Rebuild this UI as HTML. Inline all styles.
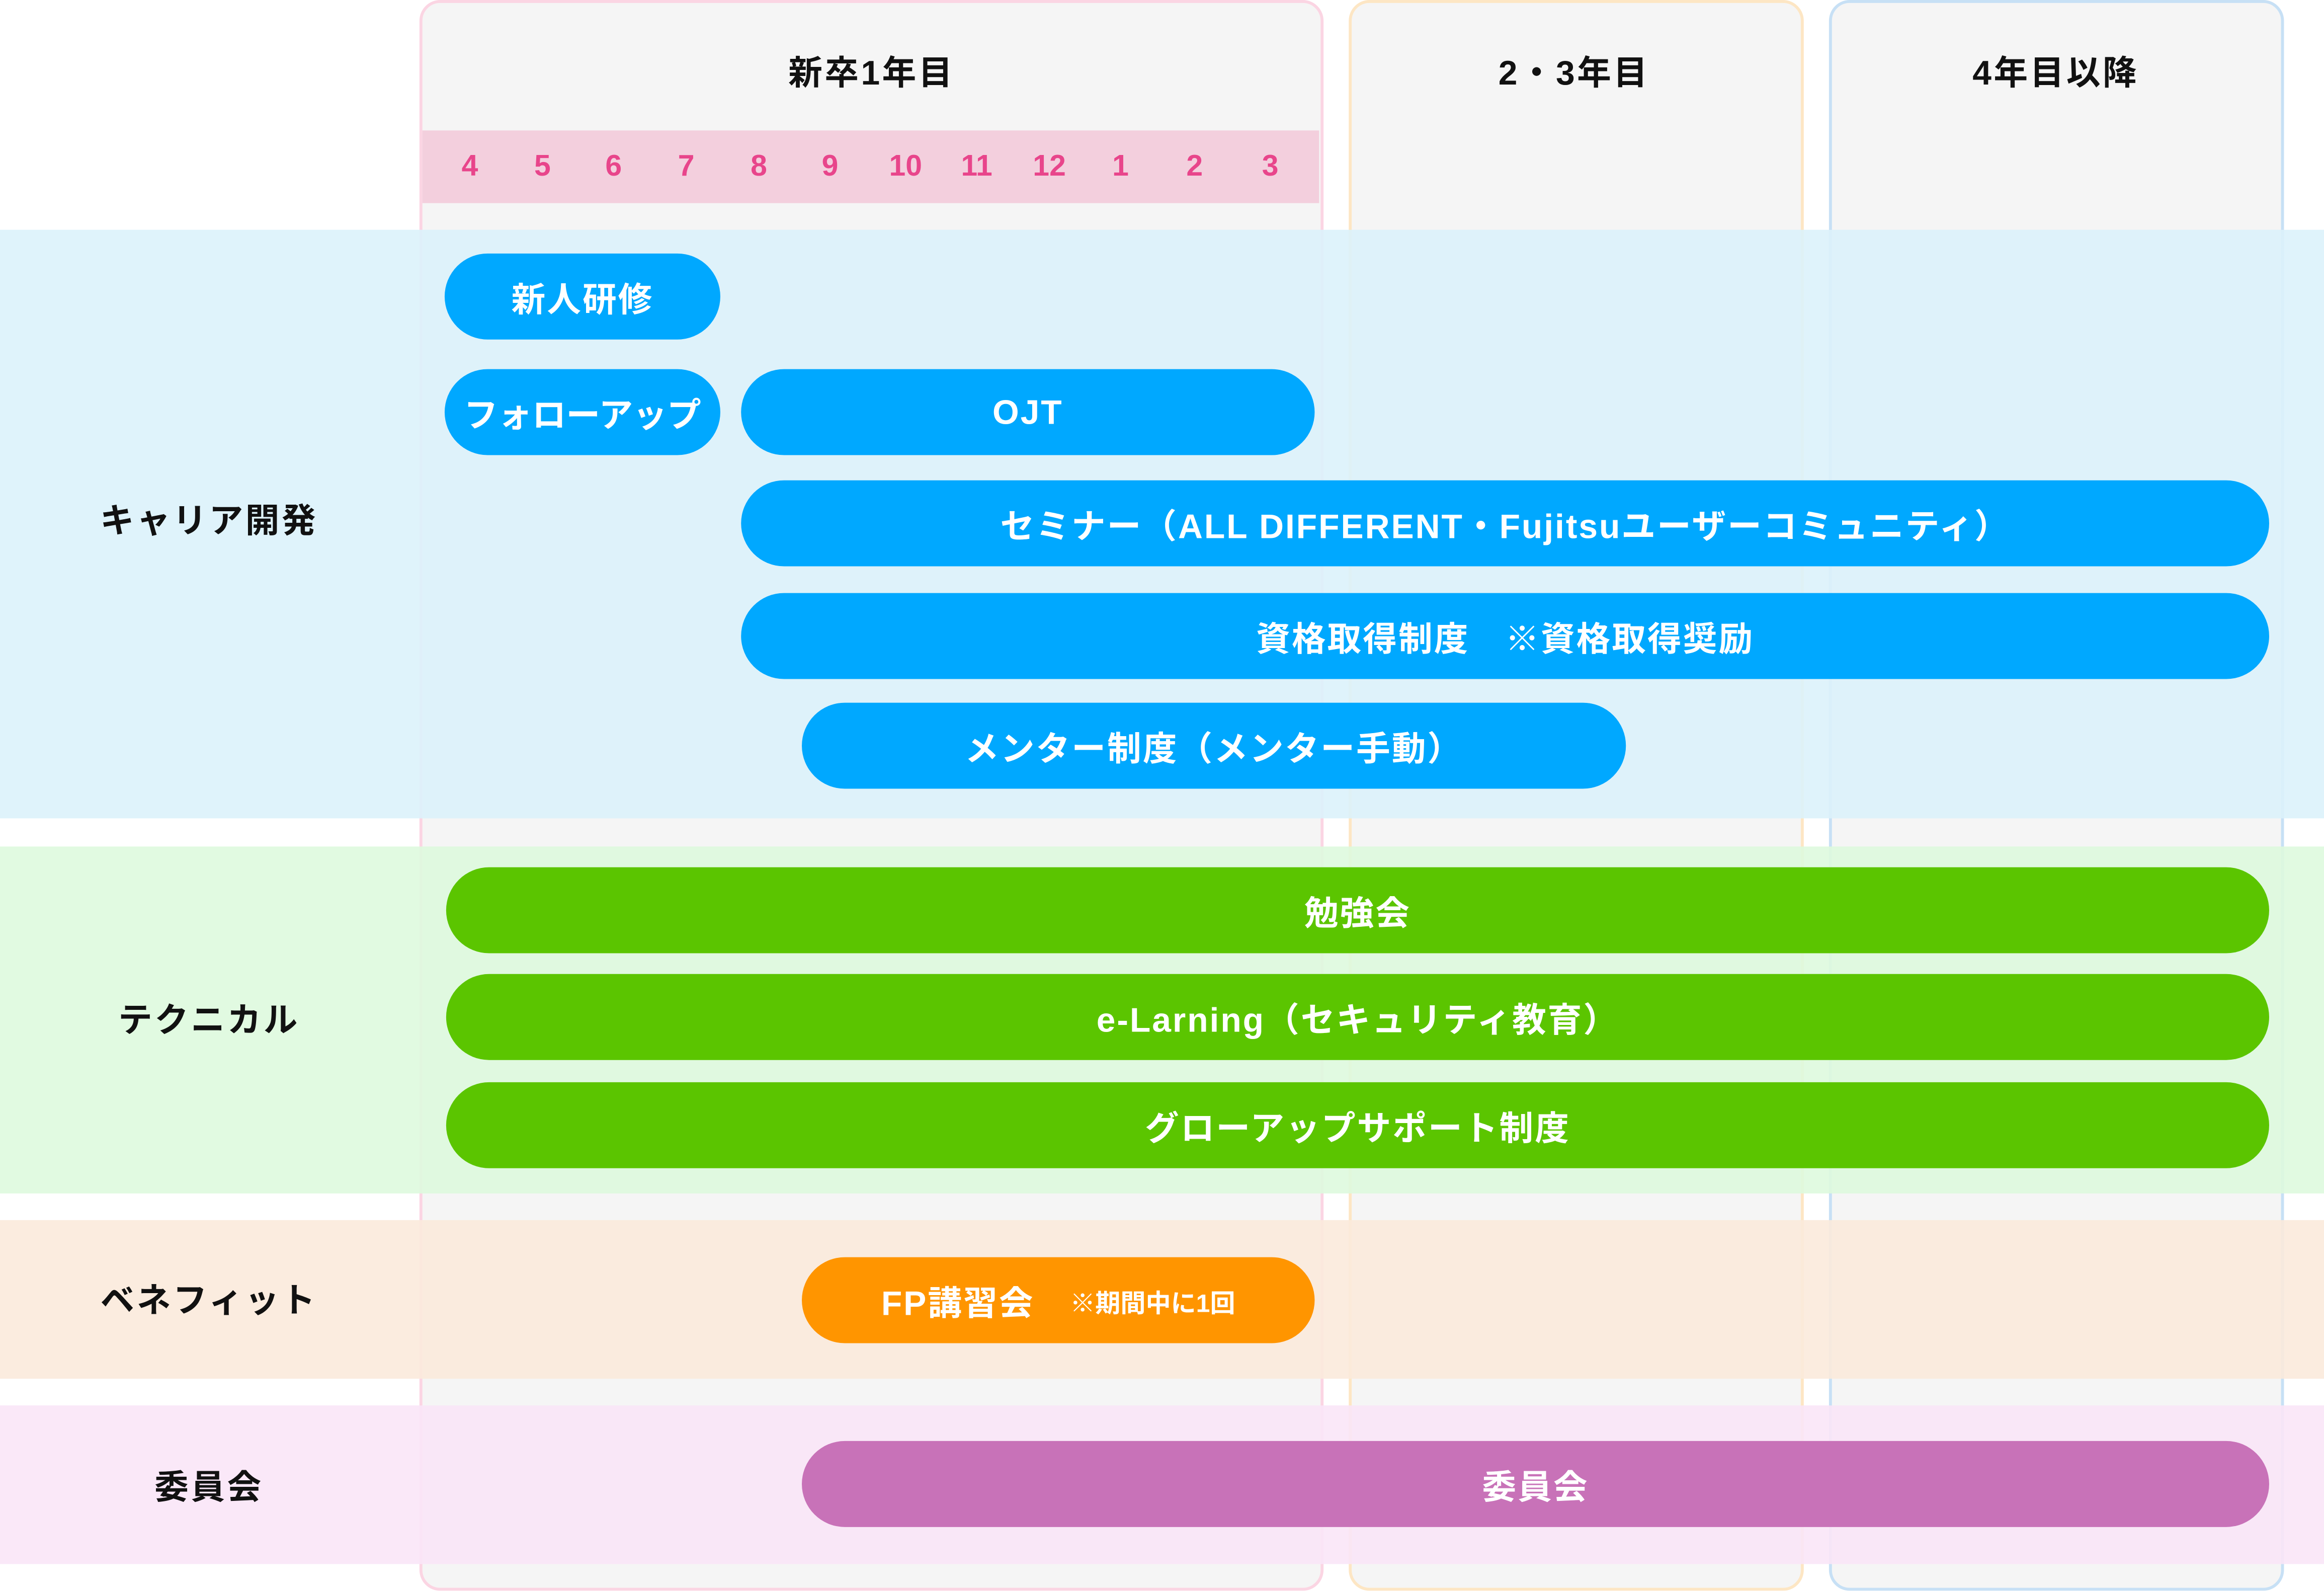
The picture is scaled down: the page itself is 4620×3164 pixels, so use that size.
<!DOCTYPE html>
<html><head><meta charset="utf-8"><style>
html,body{margin:0;padding:0;background:#fff;}
body{width:4620px;height:3164px;overflow:hidden;position:relative;}
#w{position:absolute;left:0;top:0;width:1568px;height:1074px;transform:scale(2.94643);transform-origin:0 0;font-family:"Liberation Sans","Noto Sans CJK JP",sans-serif;font-weight:bold;}
.col{position:absolute;top:0;height:1073px;background:#f5f5f5;border:2px solid;border-radius:14px;box-sizing:border-box;}
.band{position:absolute;left:0;width:1568px;opacity:.9;}
.t{position:absolute;transform:translate(-50%,-50%);white-space:nowrap;font-size:23px;letter-spacing:1.5px;color:#111;}
.bar{position:absolute;height:58px;border-radius:29px;color:#fff;font-size:23px;letter-spacing:1px;display:flex;align-items:center;justify-content:center;white-space:nowrap;}
.b{background:#00a8ff}.g{background:#5bc500}
.m{position:absolute;top:113px;transform:translate(-50%,-50%);color:#e8458b;font-size:20px;}
</style></head><body><div id="w">
<div class="col" style="left:283px;width:610px;border-color:#fbd5e3"></div>
<div class="col" style="left:910px;width:307px;border-color:#fde6c4"></div>
<div class="col" style="left:1234px;width:307px;border-color:#c7e0f5"></div>
<div style="position:absolute;left:285px;top:88px;width:605px;height:49px;background:#f3cfdd"></div>
<div class="m" style="left:317px">4</div><div class="m" style="left:366px">5</div><div class="m" style="left:414px">6</div><div class="m" style="left:463px">7</div><div class="m" style="left:512px">8</div><div class="m" style="left:560px">9</div><div class="m" style="left:611px">10</div><div class="m" style="left:659px">11</div><div class="m" style="left:708px">12</div><div class="m" style="left:756px">1</div><div class="m" style="left:806px">2</div><div class="m" style="left:857px">3</div>
<div class="t" style="left:588px;top:47px">新卒1年目</div>
<div class="t" style="left:1062px;top:47px">2・3年目</div>
<div class="t" style="left:1387px;top:47px">4年目以降</div>
<div class="band" style="top:155px;height:397px;background:#dcf2fb"></div>
<div class="band" style="top:571px;height:234px;background:#defade"></div>
<div class="band" style="top:823px;height:107px;background:#fbeadb"></div>
<div class="band" style="top:948px;height:107px;background:#fae5f7"></div>
<div class="t" style="left:141px;top:349px">キャリア開発</div>
<div class="t" style="left:141px;top:686px">テクニカル</div>
<div class="t" style="left:141px;top:875px">ベネフィット</div>
<div class="t" style="left:141px;top:1001px">委員会</div>
<div class="bar b" style="left:300px;width:186px;top:171px">新人研修</div>
<div class="bar b" style="left:300px;width:186px;top:249px;letter-spacing:0">フォローアップ</div>
<div class="bar b" style="left:500px;width:387px;top:249px">OJT</div>
<div class="bar b" style="left:500px;width:1031px;top:324px">セミナー（ALL DIFFERENT・Fujitsuユーザーコミュニティ）</div>
<div class="bar b" style="left:500px;width:1031px;top:400px">資格取得制度　※資格取得奨励</div>
<div class="bar b" style="left:541px;width:556px;top:474px">メンター制度（メンター手動）</div>
<div class="bar g" style="left:301px;width:1230px;top:585px">勉強会</div>
<div class="bar g" style="left:301px;width:1230px;top:657px">e-Larning（セキュリティ教育）</div>
<div class="bar g" style="left:301px;width:1230px;top:730px">グローアップサポート制度</div>
<div class="bar" style="left:541px;width:346px;top:848px;background:#ff9500">FP講習会<span style="font-size:17px;margin-left:24px;letter-spacing:0">※期間中に1回</span></div>
<div class="bar" style="left:541px;width:990px;top:972px;background:#c872b8">委員会</div>
</div></body></html>
